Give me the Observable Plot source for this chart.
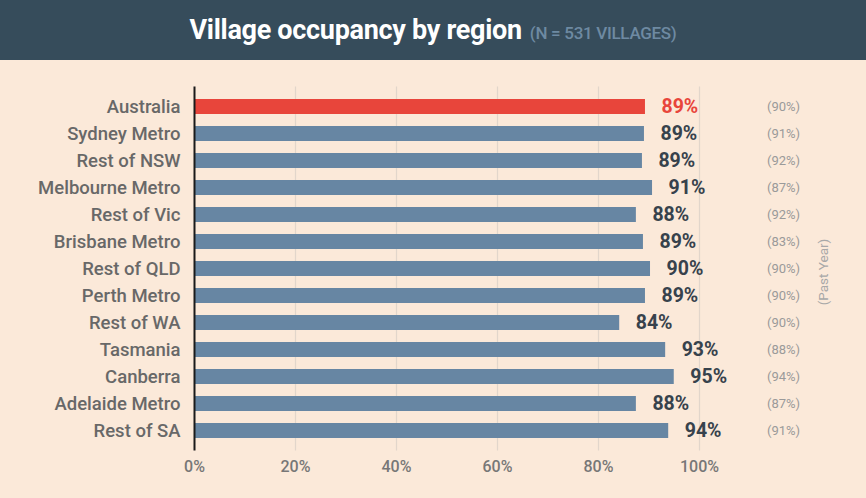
<!DOCTYPE html>
<html>
<head>
<meta charset="utf-8">
<script src="https://cdn.jsdelivr.net/npm/d3@7"></script>
<script src="https://cdn.jsdelivr.net/npm/@observablehq/plot@0.6"></script>
<style>
  html, body { margin: 0; padding: 0; background: #fbe9d9; }
  body { width: 866px; height: 498px; overflow: hidden; font-family: Roboto, sans-serif; }
  #header { height: 60px; background: #364c5b; display: flex; justify-content: center; align-items: baseline; padding-top: 14px; box-sizing: border-box; }
  #title { color: #ffffff; font-weight: 700; font-size: 27px; letter-spacing: -0.3px; }
  #sub { color: #6e8aa2; font-weight: 500; font-size: 17px; margin-left: 8px; letter-spacing: -0.3px; }
</style>
</head>
<body>
<div id="header"><span id="title">Village occupancy by region</span><span id="sub">(N = 531 VILLAGES)</span></div>
<div id="chart"></div>
<script>
const regions = ["Australia","Sydney Metro","Rest of NSW","Melbourne Metro","Rest of Vic","Brisbane Metro","Rest of QLD","Perth Metro","Rest of WA","Tasmania","Canberra","Adelaide Metro","Rest of SA"];
const occupancy = [89.3, 89.1, 88.7, 90.7, 87.5, 88.9, 90.3, 89.3, 84.2, 93.3, 95.0, 87.5, 93.9];
const labels = ["89%","89%","89%","91%","88%","89%","90%","89%","84%","93%","95%","88%","94%"];
const pastYear = ["(90%)","(91%)","(92%)","(87%)","(92%)","(83%)","(90%)","(90%)","(90%)","(88%)","(94%)","(87%)","(91%)"];
const xTicks = [0, 20, 40, 60, 80, 100];

const data = regions.map((r, i) => ({region: r, value: occupancy[i], label: labels[i], past: pastYear[i], highlight: i === 0}));

const chart = Plot.plot({
  width: 866,
  height: 438,
  marginLeft: 194,
  marginRight: 167,
  marginTop: 26.5,
  marginBottom: 47.5,
  style: {background: "transparent", fontFamily: "Roboto, sans-serif", overflow: "visible"},
  x: {domain: [0, 100]},
  y: {domain: regions, padding: 0.44},
  marks: [
    Plot.ruleX(xTicks.slice(1), {stroke: "#e2d6cb", strokeWidth: 1.2}),
    Plot.barX(data, {y: "region", x: "value", fill: d => d.highlight ? "#e8453b" : "#6786a3"}),
    Plot.ruleX([0], {stroke: "#1a1a1a", strokeWidth: 2}),
    Plot.axisY({tickSize: 0, tickPadding: 14, fontSize: 18.5, fontWeight: 500, fill: "#686868", label: null}),
    Plot.axisX({ticks: xTicks, tickSize: 0, tickPadding: 10, fontSize: 16, fontWeight: 500, fill: "#777", tickFormat: d => d + "%", label: null}),
    Plot.text(data, {y: "region", x: "value", text: "label", dx: 16, textAnchor: "start", fontSize: 19.5, fontWeight: 700, fill: d => d.highlight ? "#e8453b" : "#37424c"}),
    Plot.text(data, {y: "region", text: "past", frameAnchor: "right", dx: 84, textAnchor: "middle", fontSize: 13, fill: "#9a9a9a"}),
    Plot.text(["(Past Year)"], {frameAnchor: "right", dx: 124, dy: 3, rotate: -90, textAnchor: "middle", fontSize: 13.5, fill: "#a8a8a8"})
  ]
});
document.getElementById("chart").appendChild(chart);
</script>
</body>
</html>
